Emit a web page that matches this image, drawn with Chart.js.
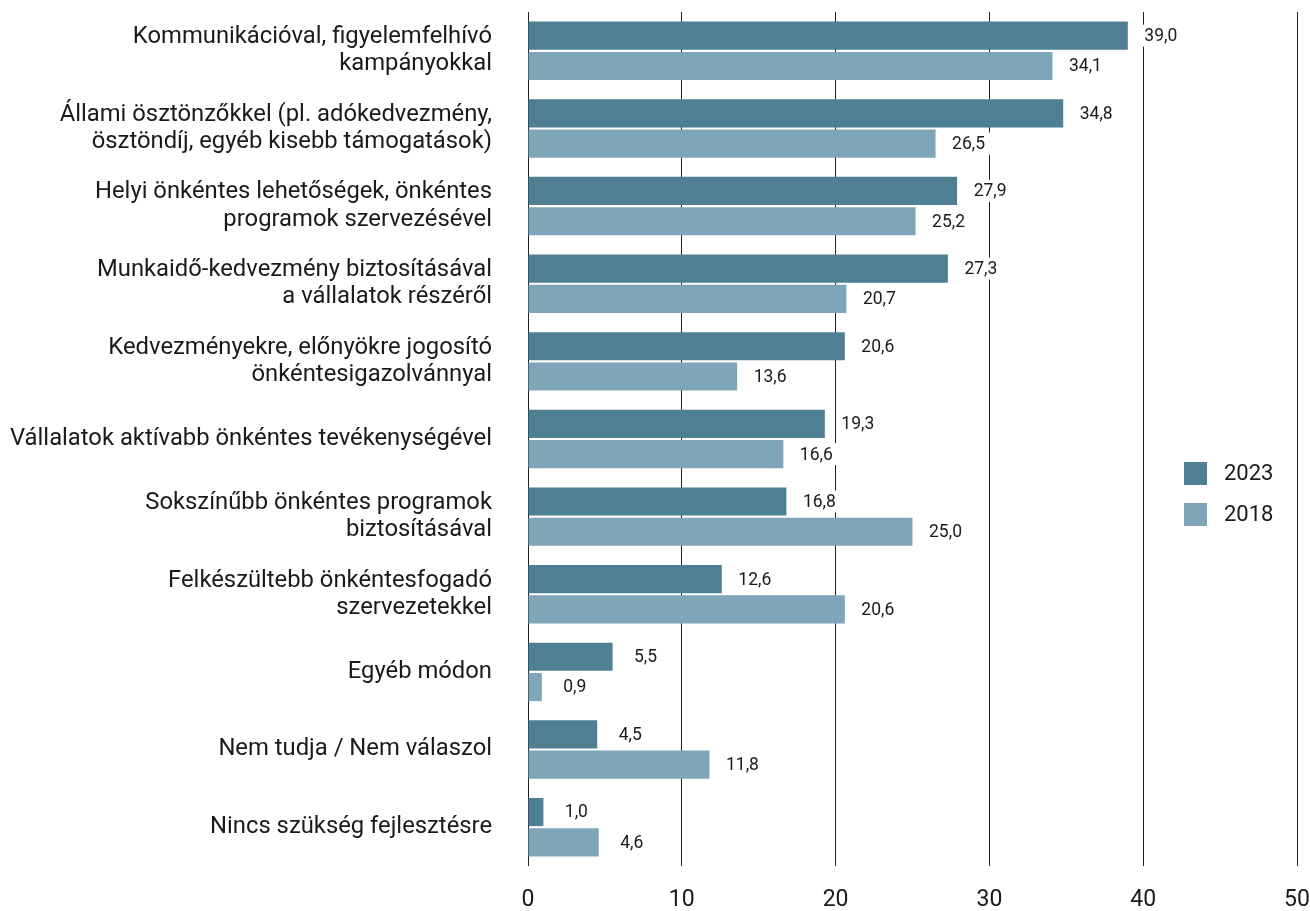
<!DOCTYPE html>
<html>
<head>
<meta charset="utf-8">
<script src="https://cdn.jsdelivr.net/npm/chart.js@4.4.1/dist/chart.umd.min.js"></script>
<style>
  html, body { margin: 0; padding: 0; background: #fff; }
  #wrap { width: 1310px; height: 911px; }
</style>
</head>
<body>
<div id="wrap"><canvas id="chart"></canvas></div>
<script>
const categories = [
    ["Kommunikációval, figyelemfelhívó", "kampányokkal"],
    ["Állami ösztönzőkkel (pl. adókedvezmény,", "ösztöndíj, egyéb kisebb támogatások)"],
    ["Helyi önkéntes lehetőségek, önkéntes", "programok szervezésével"],
    ["Munkaidő-kedvezmény biztosításával", "a vállalatok részéről"],
    ["Kedvezményekre, előnyökre jogosító", "önkéntesigazolvánnyal"],
    "Vállalatok aktívabb önkéntes tevékenységével",
    ["Sokszínűbb önkéntes programok", "biztosításával"],
    ["Felkészültebb önkéntesfogadó", "szervezetekkel"],
    "Egyéb módon",
    "Nem tudja / Nem válaszol",
    "Nincs szükség fejlesztésre"
];
const values2023 = [39.0, 34.8, 27.9, 27.3, 20.6, 19.3, 16.8, 12.6, 5.5, 4.5, 1.0];
const values2018 = [34.1, 26.5, 25.2, 20.7, 13.6, 16.6, 25.0, 20.6, 0.9, 11.8, 4.6];
const xTicks = [0, 10, 20, 30, 40, 50];

const FONT = "Roboto, 'DejaVu Sans', sans-serif";
const fmt = (v) => v.toFixed(1).replace(".", ",");

// value labels with a white box so the grid lines break behind them
const valueLabels = {
    id: "valueLabels",
    afterDatasetsDraw(chart) {
        const ctx = chart.ctx;
        ctx.save();
        ctx.font = "17.5px " + FONT;
        ctx.textBaseline = "middle";
        ctx.textAlign = "center";
        chart.data.datasets.forEach((ds, i) => {
            chart.getDatasetMeta(i).data.forEach((bar, j) => {
                const txt = fmt(ds.data[j]);
                const x = bar.x + 33;
                const w = ctx.measureText(txt).width;
                ctx.fillStyle = "#fff";
                ctx.fillRect(x - w / 2 - 5, bar.y - 11, w + 10, 22);
                ctx.fillStyle = "#1a1a1a";
                ctx.fillText(txt, x, bar.y + 1);
            });
        });
        ctx.restore();
    }
};

// legend on the right, inside the plot
const sideLegend = {
    id: "sideLegend",
    afterDraw(chart) {
        const ctx = chart.ctx;
        ctx.save();
        ctx.font = "22px " + FONT;
        ctx.textBaseline = "middle";
        chart.data.datasets.forEach((ds, i) => {
            const y = 462 + i * 41;
            ctx.fillStyle = ds.backgroundColor;
            ctx.fillRect(1184, y, 23, 23);
            ctx.fillStyle = "#1a1a1a";
            ctx.fillText(ds.label, 1224, y + 12);
        });
        ctx.restore();
    }
};

new Chart(document.getElementById("chart"), {
    type: "bar",
    data: {
        labels: categories,
        datasets: [
            { label: "2023", data: values2023, backgroundColor: "#4e7f92" },
            { label: "2018", data: values2018, backgroundColor: "#7ea5b8" }
        ]
    },
    options: {
        indexAxis: "y",
        responsive: true,
        maintainAspectRatio: false,
        animation: false,
        categoryPercentage: 0.78,
        barPercentage: 0.93,
        layout: { padding: { top: 12, right: 13, left: 0, bottom: 0 } },
        plugins: {
            legend: { display: false },
            tooltip: { enabled: false }
        },
        scales: {
            x: {
                min: 0,
                max: 50,
                afterBuildTicks: (scale) => { scale.ticks = xTicks.map(v => ({ value: v })); },
                afterFit: (scale) => { scale.paddingLeft = 0; scale.paddingRight = 0; scale.height = 45; },
                grid: { color: "#222", lineWidth: 1, drawTicks: false },
                border: { display: false },
                ticks: {
                    padding: 20,
                    color: "#1a1a1a",
                    font: { family: FONT, size: 23 }
                }
            },
            y: {
                grid: { display: false },
                border: { display: false },
                afterFit: (scale) => { scale.width = 528; scale.paddingTop = 0; scale.paddingBottom = 0; },
                ticks: {
                    padding: 28,
                    color: "#1a1a1a",
                    font: { family: FONT, size: 23.8, lineHeight: 1.14 }
                }
            }
        }
    },
    plugins: [valueLabels, sideLegend]
});
</script>
</body>
</html>
